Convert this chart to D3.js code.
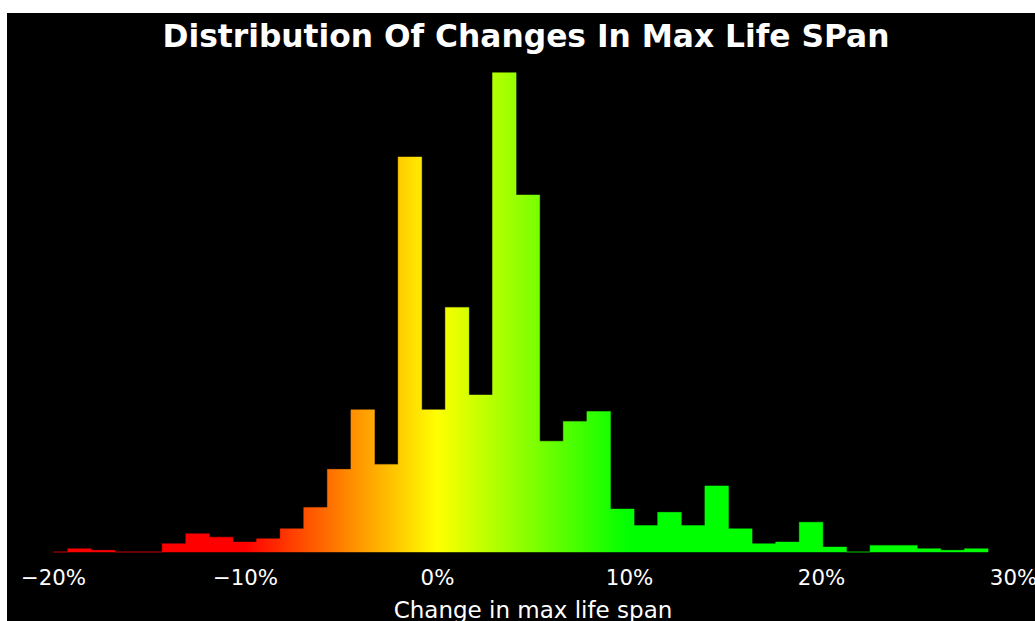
<!DOCTYPE html>
<html>
<head>
<meta charset="utf-8">
<script src="https://cdn.jsdelivr.net/npm/d3@7"></script>
<style>
  body { margin: 0; background: #fff; }
  svg { display: block; font-family: "DejaVu Sans", sans-serif; }
</style>
</head>
<body>
<svg id="chart" width="1035" height="621"></svg>
<script>
// histogram: 40 equal bins, change in max life span (%)
var binStart = -20.46,
    binWidth = 1.229;
var counts = [0, 2, 1, 0, 0, 5, 11, 9, 6, 8,
              14, 27, 50, 86, 53, 239, 86, 148, 95, 290,
              216, 67, 79, 85, 26, 16, 24, 16, 40, 14,
              5, 6, 18, 3, 0, 4, 4, 2, 1, 2];
var xTicks = [-20, -10, 0, 10, 20, 30];
var gradStops = [[-10, "#ff0000"], [0, "#ffff00"], [10, "#00ff00"]];

var svg = d3.select("#chart");
var W = 1035, H = 621;
var left = 53, right = 1013, base = 552;

var bins = counts.map(function(c, i) {
  return { x0: binStart + i * binWidth, x1: binStart + (i + 1) * binWidth, n: c };
});

var x = d3.scaleLinear().domain([-20, 30]).range([left, right]);
var y = d3.scaleLinear().domain([0, d3.max(counts) * 1.05]).range([base, base - 479.3 * 1.05]);

// black figure background
svg.append("rect")
  .attr("x", 7).attr("y", 13)
  .attr("width", W - 7).attr("height", H - 13)
  .attr("fill", "#000");

var defs = svg.append("defs");
var grad = defs.append("linearGradient")
  .attr("id", "grad")
  .attr("gradientUnits", "userSpaceOnUse")
  .attr("x1", x(gradStops[0][0])).attr("x2", x(gradStops[gradStops.length - 1][0]))
  .attr("y1", 0).attr("y2", 0);
grad.selectAll("stop")
  .data(gradStops)
  .enter().append("stop")
    .attr("offset", function(d) { return (d[0] - gradStops[0][0]) / (gradStops[gradStops.length - 1][0] - gradStops[0][0]); })
    .attr("stop-color", function(d) { return d[1]; });

defs.append("clipPath").attr("id", "plot")
  .append("rect")
    .attr("x", left).attr("y", 0)
    .attr("width", right - left).attr("height", H);

var g = svg.append("g").attr("clip-path", "url(#plot)");

// bars drawn as one stepped shape so that no seams show between them
var step = [[bins[0].x0, 0]];
bins.forEach(function(d) { step.push([d.x0, d.n], [d.x1, d.n]); });
step.push([bins[bins.length - 1].x1, 0]);

var line = d3.line()
  .x(function(p) { return x(p[0]); })
  .y(function(p) { return y(p[1]); });

g.append("path")
  .attr("class", "bars")
  .attr("d", line(step) + "Z")
  .attr("fill", "url(#grad)")
  .attr("stroke", "url(#grad)")
  .attr("stroke-opacity", 0.45)
  .attr("stroke-width", 1);

// x axis
var axis = svg.append("g")
  .attr("transform", "translate(0," + base + ")")
  .call(d3.axisBottom(x)
    .tickValues(xTicks)
    .tickSize(0)
    .tickPadding(18)
    .tickFormat(function(d) { return (d < 0 ? "\u2212" : "") + Math.abs(d) + "%"; }));
axis.select(".domain").remove();
axis.selectAll("text")
  .attr("fill", "#fff")
  .style("font-size", "21.3px")
  .style("font-family", "DejaVu Sans");

svg.append("text")
  .attr("x", (left + right) / 2)
  .attr("y", 618)
  .attr("text-anchor", "middle")
  .attr("fill", "#fff")
  .style("font-size", "23px")
  .text("Change in max life span");

svg.append("text")
  .attr("x", 526)
  .attr("y", 47)
  .attr("text-anchor", "middle")
  .attr("fill", "#fff")
  .style("font-size", "31.3px")
  .style("font-weight", "bold")
  .text("Distribution Of Changes In Max Life SPan");
</script>
</body>
</html>
